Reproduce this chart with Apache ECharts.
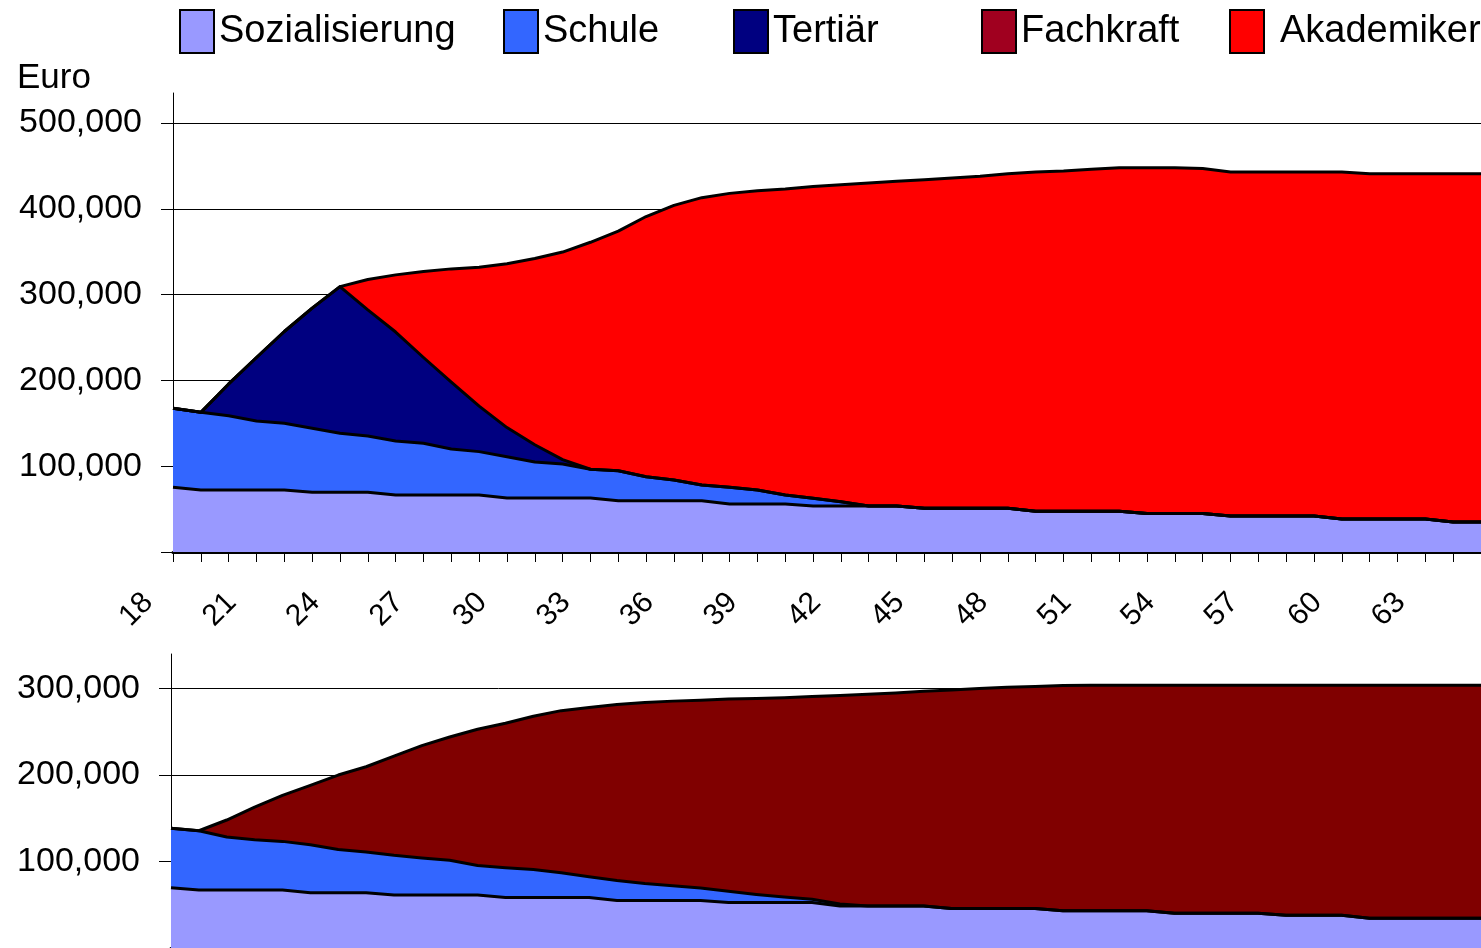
<!DOCTYPE html>
<html>
<head>
<meta charset="utf-8">
<style>
  html, body { margin: 0; padding: 0; background: #fff; }
  #chart { width: 1481px; height: 948px; }
</style>
<script src="https://cdn.jsdelivr.net/npm/echarts@6/dist/echarts.min.js"></script>
</head>
<body>
<div id="chart"></div>
<script>
// Alter in Jahren (18 bis 65)
const ages = [18, 19, 20, 21, 22, 23, 24, 25, 26, 27, 28, 29, 30, 31, 32, 33,
  34, 35, 36, 37, 38, 39, 40, 41, 42, 43, 44, 45, 46, 47, 48, 49,
  50, 51, 52, 53, 54, 55, 56, 57, 58, 59, 60, 61, 62, 63, 64, 65];

// Oberes Diagramm: Akademikerlaufbahn (Euro, gestapelt)
const akadSozialisierung = [75400, 72300, 72300, 72300, 72300, 69600, 69600, 69600,
  66400, 66400, 66400, 66400, 63000, 63000, 63000, 63000,
  59800, 59800, 59800, 59800, 56000, 56000, 56000, 53600,
  53600, 53600, 53600, 50900, 50900, 50900, 50900, 47500,
  47500, 47500, 47500, 45000, 45000, 45000, 42000, 42000,
  42000, 42000, 38500, 38500, 38500, 38500, 35000, 35000];
const akadSchule = [92100, 90500, 86600, 80400, 77700, 74600, 68700, 65600,
  63000, 60300, 53600, 50600, 48000, 42000, 39600, 33500,
  35000, 28000, 24200, 18200, 19400, 16300, 10400, 9000,
  5000, 0, 0, 0, 0, 0, 0, 0,
  0, 0, 0, 0, 0, 0, 0, 0,
  0, 0, 0, 0, 0, 0, 0, 0];
const akadTertiaer = [0, 0, 37000, 74000, 107000, 140000, 171000, 147000,
  127000, 100000, 78000, 53000, 34000, 20000, 5000, 0,
  0, 0, 0, 0, 0, 0, 0, 0,
  0, 0, 0, 0, 0, 0, 0, 0,
  0, 0, 0, 0, 0, 0, 0, 0,
  0, 0, 0, 0, 0, 0, 0, 0];
const akadAkademiker = [0, 0, 0, 0, 0, 0, 0, 35500,
  66600, 100300, 132000, 162000, 191000, 217000, 242000, 264500,
  279200, 303200, 320000, 335000, 342600, 348700, 356600, 363400,
  369400, 376400, 378400, 383100, 385100, 387100, 390100, 395500,
  396500, 398500, 400500, 403000, 403000, 402000, 401000, 401000,
  401000, 401000, 404500, 402500, 402500, 402500, 406000, 406000];

// Unteres Diagramm: Fachkraftlaufbahn (Euro, gestapelt)
const fachSozialisierung = [69800, 67000, 67000, 67000, 67000, 64000, 64000, 64000,
  61300, 61300, 61300, 61300, 58300, 58300, 58300, 58300,
  55000, 55000, 55000, 55000, 52500, 52500, 52500, 52500,
  48500, 48500, 48500, 48500, 45600, 45600, 45600, 45600,
  43000, 43000, 43000, 43000, 40200, 40200, 40200, 40200,
  37800, 37800, 37800, 34300, 34300, 34300, 34300, 34300];
const fachSchule = [68700, 68600, 61400, 58300, 56300, 55500, 49800, 47100,
  45900, 42900, 40200, 34100, 34500, 32500, 28700, 24100,
  23000, 19500, 17000, 14500, 13000, 9500, 6500, 3800,
  2500, 0, 0, 0, 0, 0, 0, 0,
  0, 0, 0, 0, 0, 0, 0, 0,
  0, 0, 0, 0, 0, 0, 0, 0];
const fachFachkraft = [0, 0, 19600, 37700, 53200, 68500, 86200, 98500,
  114800, 129800, 142500, 157600, 167200, 177200, 187500, 195600,
  203500, 209500, 213500, 217000, 222500, 226500, 230500, 234500,
  241000, 245000, 246500, 248500, 252900, 254400, 255900, 256900,
  260500, 261000, 261000, 261000, 263800, 263800, 263800, 263800,
  266200, 266200, 266200, 269700, 269700, 269700, 269700, 269700];

// Achsenbeschriftungen
const topTickValues = [0, 100000, 200000, 300000, 400000, 500000];
const topLabelValues = [100000, 200000, 300000, 400000, 500000];
const bottomTickValues = [0, 100000, 200000, 300000];
const bottomLabelValues = [100000, 200000, 300000];

const FONT = 'Liberation Sans, Arial, sans-serif';
const colors = {
  Sozialisierung: '#9999FF',
  Schule: '#3366FF',
  'Tertiär': '#000080',
  Fachkraft: '#800000',
  Akademiker: '#FF0000'
};

const fmt = v => v.toLocaleString('en-US');

function areaSeries(name, data, axisIndex, stack) {
  return {
    name: name,
    type: 'line',
    stack: stack,
    xAxisIndex: axisIndex,
    yAxisIndex: axisIndex,
    data: data,
    symbol: 'none',
    showSymbol: false,
    smooth: false,
    itemStyle: { color: colors[name] },
    lineStyle: { color: '#000', width: 3, join: 'round' },
    areaStyle: { color: colors[name], opacity: 1 },
    emphasis: { disabled: true }
  };
}

function legendItem(name, left, extra, textPad) {
  return {
    data: [Object.assign({ name: name }, extra || {})],
    left: left,
    top: 9,
    padding: 0,
    icon: 'rect',
    itemWidth: 34,
    itemHeight: 43,
    selectedMode: false,
    itemStyle: { borderColor: '#000', borderWidth: 2 },
    textStyle: { fontSize: 38, color: '#000', fontFamily: FONT, padding: textPad || 0 }
  };
}

function yAxis(gridIndex, max, ticks, labels) {
  return {
    type: 'value',
    gridIndex: gridIndex,
    min: 0,
    max: max,
    interval: 100000,
    axisLine: { show: true, lineStyle: { color: '#000', width: 1 } },
    axisTick: { show: true, length: 12, customValues: ticks, lineStyle: { color: '#000' } },
    axisLabel: {
      customValues: labels,
      margin: 31,
      fontSize: 34,
      color: '#000',
      fontFamily: FONT,
      formatter: fmt
    },
    splitLine: { show: true, lineStyle: { color: '#000', width: 1 } }
  };
}

const chart = echarts.init(document.getElementById('chart'), null, { renderer: 'canvas' });
chart.setOption({
  animation: false,
  backgroundColor: '#fff',
  title: {
    text: 'Euro',
    left: 17,
    top: 61,
    padding: 0,
    textStyle: { fontSize: 35, fontWeight: 'normal', color: '#000', fontFamily: FONT }
  },
  legend: [
    legendItem('Sozialisierung', 179),
    legendItem('Schule', 503),
    legendItem('Tertiär', 733),
    legendItem('Fachkraft', 981, { itemStyle: { color: '#A0001F' } }),
    legendItem('Akademiker', 1229, null, [0, 0, 0, 11])
  ],
  grid: [
    { left: 173, right: -12, top: 93, height: 459, containLabel: false },
    { left: 171, right: -12, top: 654, height: 296, containLabel: false }
  ],
  xAxis: [
    {
      type: 'category',
      gridIndex: 0,
      data: ages,
      boundaryGap: false,
      axisLine: { show: true, lineStyle: { color: '#000', width: 3 } },
      axisTick: { show: true, interval: 0, length: 10, lineStyle: { color: '#000', width: 1 } },
      axisLabel: {
        interval: 2,
        rotate: 45,
        margin: 21,
        padding: [0, 35, 0, 0],
        fontSize: 30,
        color: '#000',
        fontFamily: FONT
      },
      splitLine: { show: false }
    },
    {
      type: 'category',
      gridIndex: 1,
      data: ages,
      boundaryGap: false,
      axisLine: { show: true, lineStyle: { color: '#000', width: 3 } },
      axisTick: { show: false },
      axisLabel: { show: false },
      splitLine: { show: false }
    }
  ],
  yAxis: [
    yAxis(0, 535000, topTickValues, topLabelValues),
    yAxis(1, 340000, bottomTickValues, bottomLabelValues)
  ],
  series: [
    areaSeries('Sozialisierung', akadSozialisierung, 0, 'akad'),
    areaSeries('Schule', akadSchule, 0, 'akad'),
    areaSeries('Tertiär', akadTertiaer, 0, 'akad'),
    areaSeries('Akademiker', akadAkademiker, 0, 'akad'),
    areaSeries('Sozialisierung', fachSozialisierung, 1, 'fach'),
    areaSeries('Schule', fachSchule, 1, 'fach'),
    areaSeries('Fachkraft', fachFachkraft, 1, 'fach')
  ]
});
</script>
</body>
</html>
